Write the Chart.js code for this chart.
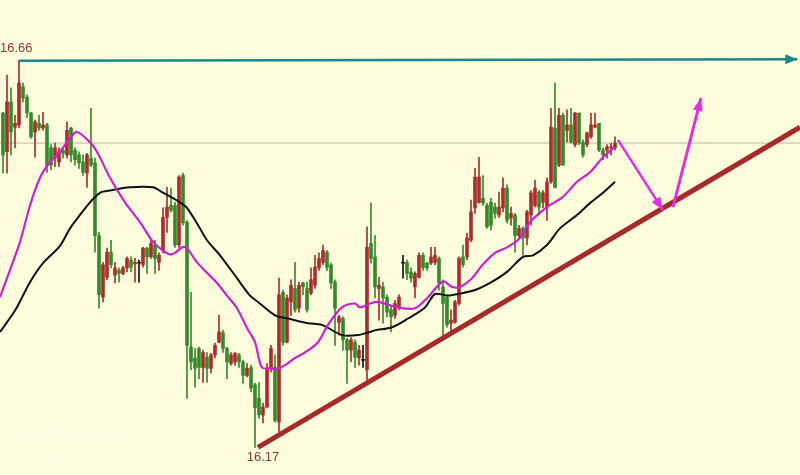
<!DOCTYPE html>
<html>
<head>
<meta charset="utf-8">
<script src="https://cdn.jsdelivr.net/npm/chart.js@4.4.1/dist/chart.umd.min.js"></script>
<style>
  html, body { margin: 0; padding: 0; background: #fdfcdc; }
  #wrap { width: 800px; height: 475px; }
</style>
</head>
<body>
<div id="wrap"><canvas id="chart" width="800" height="475"></canvas></div>
<script>
// candle data (one per bar, left to right)
const open = [
16.593,16.544,16.607,16.575,16.578,16.626,16.613,16.593,16.569,16.580,
16.574,16.578,16.549,16.536,16.531,16.546,16.540,16.574,16.546,16.540,
16.531,16.517,16.536,16.530,16.438,16.360,16.385,16.417,16.388,16.394,
16.390,16.397,16.407,16.402,16.403,16.401,16.422,16.411,16.426,16.404,
16.419,16.461,16.476,16.476,16.426,16.514,16.455,16.297,16.283,16.295,
16.271,16.284,16.270,16.287,16.303,16.315,16.295,16.276,16.278,16.287,
16.278,16.261,16.271,16.249,16.232,16.211,16.221,16.270,16.271,16.202,
16.366,16.303,16.354,16.371,16.346,16.378,16.371,16.365,16.375,16.397,
16.404,16.417,16.401,16.379,16.328,16.333,16.306,16.293,16.303,16.283,
16.280,16.268,16.428,16.411,16.371,16.373,16.360,16.344,16.337,16.347,
16.403,16.404,16.392,16.373,16.385,16.413,16.403,16.403,16.404,16.409,
16.373,16.360,16.327,16.328,16.352,16.411,16.411,16.432,16.473,16.480,
16.485,16.476,16.480,16.474,16.464,16.473,16.498,16.460,16.464,16.438,
16.447,16.435,16.464,16.476,16.493,16.480,16.474,16.506,16.574,16.527,
16.590,16.571,16.578,16.553,16.593,16.556,16.553,16.563,16.575,16.580,
16.546,16.546,16.549,16.549
];
const high = [
16.594,16.641,16.625,16.590,16.660,16.631,16.616,16.594,16.584,16.590,
16.594,16.580,16.553,16.555,16.549,16.550,16.582,16.575,16.549,16.544,
16.540,16.542,16.599,16.536,16.442,16.404,16.422,16.432,16.404,16.397,
16.399,16.411,16.411,16.409,16.407,16.423,16.423,16.432,16.432,16.416,
16.473,16.499,16.498,16.480,16.514,16.517,16.457,16.366,16.295,16.297,
16.293,16.290,16.289,16.302,16.337,16.318,16.297,16.290,16.290,16.289,
16.280,16.276,16.274,16.251,16.252,16.226,16.276,16.299,16.287,16.384,
16.369,16.363,16.382,16.404,16.379,16.379,16.379,16.397,16.413,16.416,
16.426,16.419,16.403,16.382,16.337,16.335,16.308,16.309,16.306,16.299,
16.299,16.449,16.479,16.438,16.385,16.379,16.363,16.350,16.356,16.363,
16.413,16.407,16.397,16.392,16.416,16.416,16.404,16.423,16.423,16.411,
16.382,16.363,16.344,16.356,16.411,16.426,16.441,16.483,16.523,16.537,
16.514,16.479,16.485,16.479,16.493,16.511,16.502,16.474,16.466,16.451,
16.449,16.470,16.495,16.508,16.495,16.495,16.511,16.599,16.631,16.599,
16.593,16.597,16.599,16.594,16.593,16.559,16.569,16.593,16.593,16.580,
16.549,16.553,16.555,16.563
];
const low = [
16.517,16.517,16.540,16.549,16.574,16.607,16.587,16.561,16.537,16.571,
16.571,16.518,16.521,16.525,16.525,16.536,16.536,16.531,16.527,16.523,
16.514,16.499,16.525,16.417,16.346,16.354,16.382,16.397,16.378,16.379,
16.388,16.392,16.392,16.379,16.379,16.398,16.390,16.409,16.390,16.394,
16.416,16.442,16.468,16.423,16.423,16.451,16.232,16.268,16.246,16.257,
16.252,16.252,16.264,16.283,16.302,16.290,16.257,16.274,16.274,16.271,
16.251,16.259,16.240,16.170,16.207,16.201,16.220,16.265,16.202,16.189,
16.299,16.302,16.337,16.341,16.341,16.363,16.341,16.363,16.371,16.394,
16.401,16.394,16.371,16.299,16.312,16.293,16.251,16.278,16.271,16.274,
16.271,16.255,16.403,16.359,16.331,16.327,16.335,16.316,16.333,16.344,
16.384,16.382,16.379,16.359,16.384,16.394,16.394,16.401,16.401,16.369,
16.309,16.322,16.316,16.327,16.350,16.398,16.407,16.430,16.466,16.479,
16.476,16.447,16.445,16.460,16.461,16.468,16.454,16.451,16.417,16.435,
16.413,16.426,16.451,16.474,16.464,16.473,16.457,16.504,16.498,16.525,
16.527,16.556,16.555,16.550,16.553,16.537,16.550,16.561,16.574,16.544,
16.534,16.536,16.540,16.546
];
const close = [
16.540,16.607,16.569,16.580,16.631,16.612,16.593,16.563,16.582,16.574,
16.578,16.527,16.527,16.549,16.544,16.542,16.571,16.540,16.534,16.530,
16.518,16.540,16.527,16.438,16.363,16.401,16.417,16.401,16.397,16.390,
16.397,16.409,16.398,16.404,16.403,16.422,16.411,16.428,16.409,16.413,
16.461,16.474,16.470,16.426,16.512,16.454,16.299,16.278,16.270,16.271,
16.290,16.270,16.287,16.299,16.316,16.295,16.278,16.287,16.289,16.278,
16.261,16.270,16.245,16.220,16.211,16.221,16.270,16.295,16.204,16.363,
16.303,16.359,16.375,16.344,16.375,16.373,16.344,16.382,16.398,16.409,
16.419,16.398,16.378,16.346,16.335,16.306,16.293,16.306,16.284,16.293,
16.280,16.423,16.409,16.373,16.375,16.359,16.341,16.335,16.352,16.360,
16.403,16.390,16.384,16.390,16.413,16.397,16.397,16.411,16.413,16.378,
16.352,16.325,16.331,16.354,16.409,16.401,16.435,16.468,16.512,16.512,
16.479,16.449,16.451,16.466,16.474,16.498,16.457,16.466,16.438,16.447,
16.435,16.468,16.492,16.498,16.474,16.492,16.506,16.575,16.499,16.590,
16.527,16.578,16.556,16.593,16.555,16.540,16.568,16.578,16.578,16.546,
16.540,16.550,16.550,16.555
];

// moving averages (bar index, price)
const fastMaX = [-0.75,4.25,6.75,9.25,11.75,14.25,16.75,18.5,21.75,23.5,26.75,30.5,34.25,37.5,40,41.75,43,44.75,46,48.5,53.5,56,58.5,61,63,64.75,67.25,68,70.5,73,75.5,78.75,81.25,84.75,88,89.25,91.75,93.75,98.75,103,106.25,110,112.25,114.25,117.25,119.75,123,126,129.25,131.75,136,140,143.5,146.75,150,153];
const fastMaY = [16.360,16.430,16.476,16.511,16.531,16.544,16.561,16.569,16.556,16.544,16.511,16.480,16.455,16.430,16.419,16.414,16.416,16.423,16.422,16.404,16.378,16.362,16.346,16.321,16.303,16.271,16.270,16.268,16.274,16.283,16.290,16.303,16.325,16.347,16.352,16.347,16.352,16.354,16.347,16.346,16.360,16.380,16.373,16.373,16.384,16.400,16.416,16.423,16.435,16.455,16.474,16.487,16.506,16.518,16.537,16.550];
const slowMaX = [-0.75,3,6.75,10,14.25,16.75,19.25,21.75,24.25,26.75,31.75,37.5,39.75,44.25,46,49.25,51,54.25,58.5,61.75,63.75,68,71.25,76.25,79.75,84.75,88.75,91.75,93,97.25,101.25,105.5,108,111.25,113.75,118,121.75,126,130,132.5,136,139.25,143.5,146.75,150,153];
const slowMaY = [16.316,16.343,16.379,16.403,16.425,16.447,16.464,16.480,16.492,16.495,16.499,16.499,16.493,16.480,16.473,16.447,16.432,16.413,16.384,16.362,16.354,16.337,16.333,16.327,16.325,16.312,16.312,16.316,16.318,16.322,16.333,16.347,16.364,16.362,16.364,16.369,16.378,16.392,16.411,16.413,16.426,16.447,16.464,16.479,16.492,16.506];

// drawn lines: [x0, y0, x1, y1]
const topLine = [4.25, 16.659, 198.6, 16.661];
const supportLine = [63.75, 16.170, 199.25, 16.575];
const refLevel = 16.555;
const arrowDown = [153.75, 16.559, 165, 16.470];
const arrowUp = [167.5, 16.474, 174.5, 16.612];
const highLabel = '16.66';
const lowLabel = '16.17';

const UP = '#a8302c';
const DOWN = '#378a2a';

const idx = open.map((_, i) => i);
const candleColor = idx.map(i => close[i] > open[i] ? UP : (close[i] < open[i] ? DOWN : '#111111'));

const seg = a => [{ x: a[0], y: a[1] }, { x: a[2], y: a[3] }];
const lineDs = (data, color, width, order, extra) => Object.assign({
  type: 'line', data, borderColor: color, borderWidth: width, pointRadius: 0,
  fill: false, order, tension: 0
}, extra || {});

const arrowHeads = {
  id: 'arrowHeads',
  afterDatasetsDraw(chart) {
    const ctx = chart.ctx;
    chart.data.datasets.forEach((ds, i) => {
      if (!ds.arrowHead) return;
      const pts = chart.getDatasetMeta(i).data;
      const a = pts[pts.length - 2], b = pts[pts.length - 1];
      const ang = Math.atan2(b.y - a.y, b.x - a.x);
      const L = ds.arrowHead[0], W = ds.arrowHead[1];
      ctx.save();
      ctx.fillStyle = ds.borderColor;
      ctx.beginPath();
      ctx.moveTo(b.x, b.y);
      ctx.lineTo(b.x - L * Math.cos(ang) + W * Math.sin(ang), b.y - L * Math.sin(ang) - W * Math.cos(ang));
      ctx.lineTo(b.x - L * Math.cos(ang) - W * Math.sin(ang), b.y - L * Math.sin(ang) + W * Math.cos(ang));
      ctx.closePath();
      ctx.fill();
      ctx.restore();
    });
  }
};

const labels = {
  id: 'labels',
  afterDraw(chart) {
    const ctx = chart.ctx, xs = chart.scales.x, ys = chart.scales.y;
    ctx.save();
    ctx.fillStyle = '#8b3a36';
    ctx.font = '13px "Liberation Sans", Arial, sans-serif';
    ctx.textAlign = 'left';
    ctx.textBaseline = 'bottom';
    ctx.fillText(highLabel, xs.getPixelForValue(-0.75), ys.getPixelForValue(16.66) - 5);
    ctx.textAlign = 'center';
    ctx.textBaseline = 'top';
    ctx.fillText(lowLabel, xs.getPixelForValue(65), ys.getPixelForValue(16.17) + 4);
    // faint watermark
    ctx.fillStyle = 'rgba(255,255,255,0.3)';
    ctx.textAlign = 'left';
    ctx.textBaseline = 'alphabetic';
    ctx.font = 'bold 14px "Noto Sans CJK SC", sans-serif';
    ctx.fillText('第一黄金网 分析师', 12, 439);
    ctx.font = 'bold 12px "Liberation Sans", sans-serif';
    ctx.fillText('www.dyhjw.com', 12, 460);
    ctx.restore();
  }
};

new Chart(document.getElementById('chart'), {
  type: 'bar',
  data: {
    datasets: [
      lineDs([{ x: -0.75, y: refLevel }, { x: 199.25, y: refLevel }], '#b9b8a6', 1, 20),
      {
        type: 'bar', label: 'wick', order: 12, grouped: false,
        data: idx.map(i => ({ x: i, y: [low[i], high[i]] })),
        backgroundColor: candleColor, barThickness: 1, minBarLength: 1
      },
      {
        type: 'bar', label: 'body', order: 11, grouped: false,
        data: idx.map(i => ({ x: i, y: [open[i], close[i]] })),
        backgroundColor: candleColor, barThickness: 3, minBarLength: 1
      },
      lineDs(slowMaX.map((x, i) => ({ x, y: slowMaY[i] })), '#111111', 2, 8, { tension: 0.3 }),
      lineDs(fastMaX.map((x, i) => ({ x, y: fastMaY[i] })), '#cc22cc', 2.2, 7, { tension: 0.3 }),
      lineDs(seg(supportLine), '#a52a2a', 5, 6),
      lineDs(seg(topLine), '#17898a', 2.5, 5, { arrowHead: [12, 5] }),
      lineDs(seg(arrowDown), '#e030e0', 2.5, 4, { arrowHead: [13, 5] }),
      lineDs(seg(arrowUp), '#e030e0', 3, 4, { arrowHead: [13, 5] })
    ]
  },
  options: {
    responsive: false,
    animation: false,
    layout: { padding: 0 },
    plugins: { legend: { display: false }, tooltip: { enabled: false } },
    scales: {
      x: { type: 'linear', min: -0.75, max: 199.25, offset: false, display: false },
      y: { type: 'linear', min: 16.135, max: 16.736, display: false }
    }
  },
  plugins: [arrowHeads, labels]
});
</script>
</body>
</html>
